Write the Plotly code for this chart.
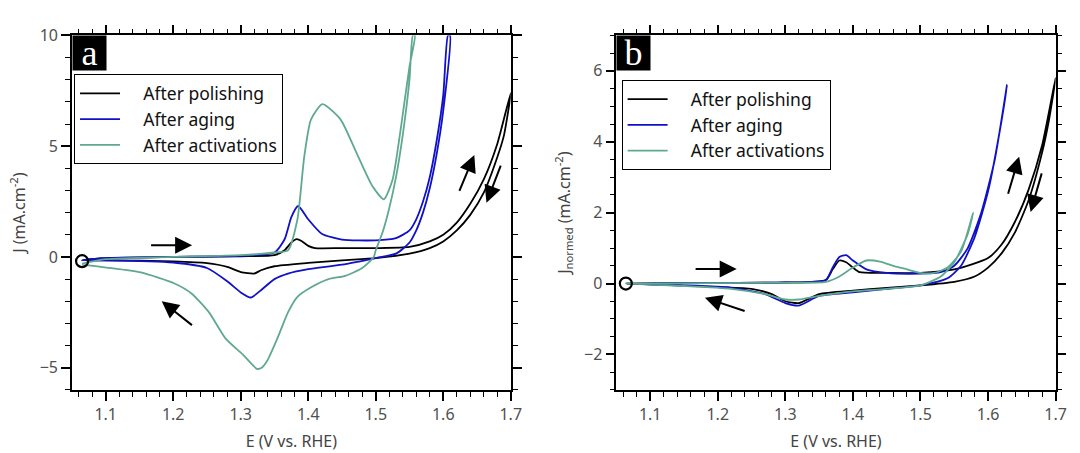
import plotly.graph_objects as go

# ---------------- Panel a data (J, mA cm^-2) ----------------
a_pol_E = [1.065, 1.10, 1.20, 1.30, 1.35, 1.365, 1.375, 1.383, 1.39, 1.40, 1.41, 1.45, 1.50, 1.55, 1.58, 1.60, 1.62, 1.64, 1.66, 1.68, 1.70,
           1.69, 1.68, 1.66, 1.64, 1.62, 1.60, 1.58, 1.55, 1.50, 1.45, 1.40, 1.35, 1.33, 1.32, 1.30, 1.28, 1.25, 1.20, 1.10, 1.065]
a_pol_J = [-0.15, -0.05, 0.0, 0.03, 0.08, 0.3, 0.65, 0.8, 0.72, 0.5, 0.4, 0.4, 0.4, 0.45, 0.7, 1.0, 1.55, 2.4, 3.5, 5.1, 7.4,
           5.5, 4.5, 2.9, 1.9, 1.2, 0.7, 0.4, 0.15, -0.05, -0.15, -0.27, -0.42, -0.6, -0.75, -0.68, -0.45, -0.28, -0.2, -0.15, -0.15]

a_age_E = [1.065, 1.10, 1.20, 1.30, 1.35, 1.365, 1.375, 1.385, 1.40, 1.42, 1.45, 1.50, 1.53, 1.55, 1.56, 1.57, 1.58, 1.59, 1.60, 1.607,
           1.610, 1.60, 1.59, 1.58, 1.57, 1.56, 1.55, 1.53, 1.50, 1.45, 1.40, 1.37, 1.35, 1.33, 1.315, 1.30, 1.28, 1.25, 1.20, 1.10, 1.065]
a_age_J = [-0.15, -0.05, 0.0, 0.05, 0.2, 0.8, 1.8, 2.3, 1.7, 1.05, 0.78, 0.75, 0.85, 1.2, 1.7, 2.5, 3.6, 5.2, 7.3, 10.0,
           10.0, 6.6, 4.6, 3.1, 2.0, 1.2, 0.65, 0.15, -0.05, -0.35, -0.55, -0.75, -1.0, -1.5, -1.83, -1.6, -1.1, -0.5, -0.25, -0.15, -0.15]

a_act_E = [1.065, 1.10, 1.20, 1.30, 1.35, 1.37, 1.384, 1.394, 1.404, 1.421, 1.448, 1.47, 1.495, 1.512, 1.525, 1.538, 1.55, 1.558,
           1.555, 1.55, 1.54, 1.53, 1.52, 1.51, 1.50, 1.497, 1.48, 1.455, 1.43, 1.405, 1.384, 1.37, 1.354, 1.339, 1.331, 1.324,
           1.303, 1.278, 1.253, 1.227, 1.202, 1.152, 1.101, 1.065]
a_act_J = [-0.3, -0.1, 0.0, 0.08, 0.2, 0.3, 1.7, 4.5, 6.2, 6.9, 6.2, 4.8, 3.2, 2.6, 3.5, 6.0, 8.6, 10.0,
           10.0, 8.0, 5.5, 3.6, 2.2, 1.1, 0.3, 0.0, -0.5, -0.85, -1.0, -1.36, -1.8, -2.5, -3.7, -4.7, -5.0, -5.05,
           -4.4, -3.7, -2.5, -1.65, -1.2, -0.7, -0.48, -0.35]

# ---------------- Panel b data (J normed, mA cm^-2) ----------------
b_pol_E = [1.065, 1.20, 1.30, 1.36, 1.37, 1.38, 1.39, 1.40, 1.41, 1.45, 1.50, 1.55, 1.60, 1.62, 1.64, 1.66, 1.68, 1.70,
           1.69, 1.68, 1.66, 1.64, 1.62, 1.60, 1.58, 1.55, 1.50, 1.45, 1.40, 1.35, 1.32, 1.30, 1.28, 1.25, 1.20, 1.10, 1.065]
b_pol_J = [0.0, 0.02, 0.03, 0.1, 0.4, 0.65, 0.6, 0.45, 0.32, 0.3, 0.3, 0.4, 0.72, 1.1, 1.75, 2.65, 3.9, 5.8,
           4.6, 3.7, 2.35, 1.45, 0.85, 0.45, 0.2, 0.05, -0.05, -0.12, -0.2, -0.3, -0.55, -0.5, -0.3, -0.15, -0.1, -0.02, 0.0]

b_age_E = [1.065, 1.20, 1.30, 1.36, 1.37, 1.38, 1.39, 1.40, 1.42, 1.45, 1.50, 1.53, 1.55, 1.57, 1.59, 1.61, 1.628,
           1.62, 1.60, 1.58, 1.56, 1.54, 1.50, 1.45, 1.40, 1.35, 1.32, 1.30, 1.27, 1.22, 1.15, 1.065]
b_age_J = [0.0, 0.02, 0.03, 0.1, 0.45, 0.75, 0.8, 0.65, 0.4, 0.3, 0.28, 0.32, 0.5, 1.0, 2.0, 3.5, 5.6,
           4.6, 2.6, 1.3, 0.5, 0.15, -0.05, -0.15, -0.25, -0.35, -0.62, -0.55, -0.3, -0.12, -0.05, 0.0]

b_act_E = [1.065, 1.30, 1.36, 1.38, 1.40, 1.42, 1.44, 1.46, 1.48, 1.50, 1.52, 1.54, 1.56, 1.578,
           1.57, 1.55, 1.53, 1.50, 1.45, 1.40, 1.35, 1.32, 1.30, 1.27, 1.22, 1.15, 1.10, 1.065]
b_act_J = [0.0, 0.02, 0.05, 0.2, 0.45, 0.65, 0.62, 0.5, 0.4, 0.3, 0.3, 0.45, 0.9, 2.0,
           1.4, 0.6, 0.2, -0.05, -0.15, -0.22, -0.35, -0.45, -0.45, -0.3, -0.15, -0.07, -0.03, 0.0]

series_names = ["After polishing", "After aging", "After activations"]
series_colors = ["#000000", "#1010c8", "#5fa98f"]

start_a = (1.065, -0.19)
start_b = (1.064, 0.0)

# arrows: (x_tail, y_tail, x_head, y_head)
arrows_a = [(1.165, 0.53, 1.228, 0.53), (1.230, -3.13, 1.183, -2.00),
            (1.623, 2.91, 1.646, 4.60), (1.686, 4.19, 1.664, 2.45)]
arrows_b = [(1.165, 0.41, 1.228, 0.41), (1.242, -0.79, 1.181, -0.40),
            (1.629, 2.49, 1.646, 3.58), (1.680, 3.15, 1.663, 2.02)]

fig = go.Figure()

pad = "\u00a0\u00a0\u00a0\u00a0"
panels = [
    ("x", "y", "legend", [(a_pol_E, a_pol_J), (a_age_E, a_age_J), (a_act_E, a_act_J)], start_a),
    ("x2", "y2", "legend2", [(b_pol_E, b_pol_J), (b_age_E, b_age_J), (b_act_E, b_act_J)], start_b),
]
for xa, ya, lg, data, start in panels:
    for i, (E, J) in enumerate(data):
        fig.add_trace(go.Scatter(x=E, y=J, mode="lines", name=pad + series_names[i],
                                 line=dict(color=series_colors[i], width=1.8, shape="spline", smoothing=0.6),
                                 xaxis=xa, yaxis=ya, legend=lg, legendgroup=lg + str(i)))
    fig.add_trace(go.Scatter(x=[start[0]], y=[start[1]], mode="markers", showlegend=False,
                             marker=dict(symbol="circle-open", size=12, color="black", line=dict(width=2.2)),
                             xaxis=xa, yaxis=ya))

for xa, ya, arrs in [("x", "y", arrows_a), ("x2", "y2", arrows_b)]:
    for (x0, y0, x1, y1) in arrs:
        fig.add_annotation(x=x1, y=y1, ax=x0, ay=y0, xref=xa, yref=ya, axref=xa, ayref=ya,
                           showarrow=True, arrowhead=2, arrowsize=1.7, arrowwidth=2, arrowcolor="black", text="")

tickfont = dict(family="Noto Sans", size=16, color="#505050")
titlefont = dict(family="Noto Sans", size=16, color="#444444")

def xaxis_cfg(domain, anchor):
    return dict(domain=domain, anchor=anchor, range=[1.05, 1.7], dtick=0.1, tick0=1.0,
                showline=True, linecolor="black", linewidth=1.5, mirror="allticks",
                ticks="outside", ticklen=9, tickwidth=1.5, tickcolor="black",
                minor=dict(dtick=0.02, ticks="outside", ticklen=5, tickwidth=1.2, tickcolor="black"),
                showgrid=False, zeroline=False, tickfont=tickfont,
                title=dict(text="E (V vs. RHE)", font=titlefont, standoff=12))

def yaxis_cfg(domain, anchor, rng, dt, mdt, title):
    return dict(domain=domain, anchor=anchor, range=rng, dtick=dt,
                showline=True, linecolor="black", linewidth=1.5, mirror="allticks",
                ticks="outside", ticklen=9, tickwidth=1.5, tickcolor="black",
                minor=dict(dtick=mdt, ticks="outside", ticklen=5, tickwidth=1.2, tickcolor="black"),
                showgrid=False, zeroline=False, tickfont=tickfont,
                title=dict(text=title, font=titlefont, standoff=10))

legfont = dict(family="Noto Sans", size=17.5, color="#111111")
ydom = [0.1428, 0.9448]
fig.update_layout(
    width=1080, height=453, margin=dict(l=0, r=0, t=0, b=0),
    paper_bgcolor="white", plot_bgcolor="white",
    xaxis=xaxis_cfg([0.0673, 0.4778], "y"),
    yaxis=yaxis_cfg(ydom, "x", [-6, 10], 5, 1, "J (mA.cm<sup>-2</sup>)"),
    xaxis2=xaxis_cfg([0.5766, 0.9875], "y2"),
    yaxis2=yaxis_cfg(ydom, "x2", [-3, 7], 2, 0.5, "J<sub>normed</sub> (mA.cm<sup>-2</sup>)"),
    legend=dict(x=74.8 / 1080, y=1 - 65 / 453, xanchor="left", yanchor="top",
                bordercolor="black", borderwidth=1, bgcolor="white", itemwidth=40, tracegroupgap=0,
                font=legfont),
    legend2=dict(x=628 / 1080, y=1 - 71 / 453, xanchor="left", yanchor="top",
                 bordercolor="black", borderwidth=1, bgcolor="white", itemwidth=40, tracegroupgap=0,
                 font=legfont),
    showlegend=True,
)

# panel letters
for xr, yr, letter in [("x domain", "y domain", "a"), ("x2 domain", "y2 domain", "b")]:
    fig.add_annotation(x=0, y=1, xref=xr, yref=yr, xanchor="left", yanchor="top", showarrow=False,
                       text=letter, bgcolor="black", width=33, height=34, borderpad=0,
                       font=dict(family="Liberation Serif", size=36, color="white"))

fig.write_html("out.html")
